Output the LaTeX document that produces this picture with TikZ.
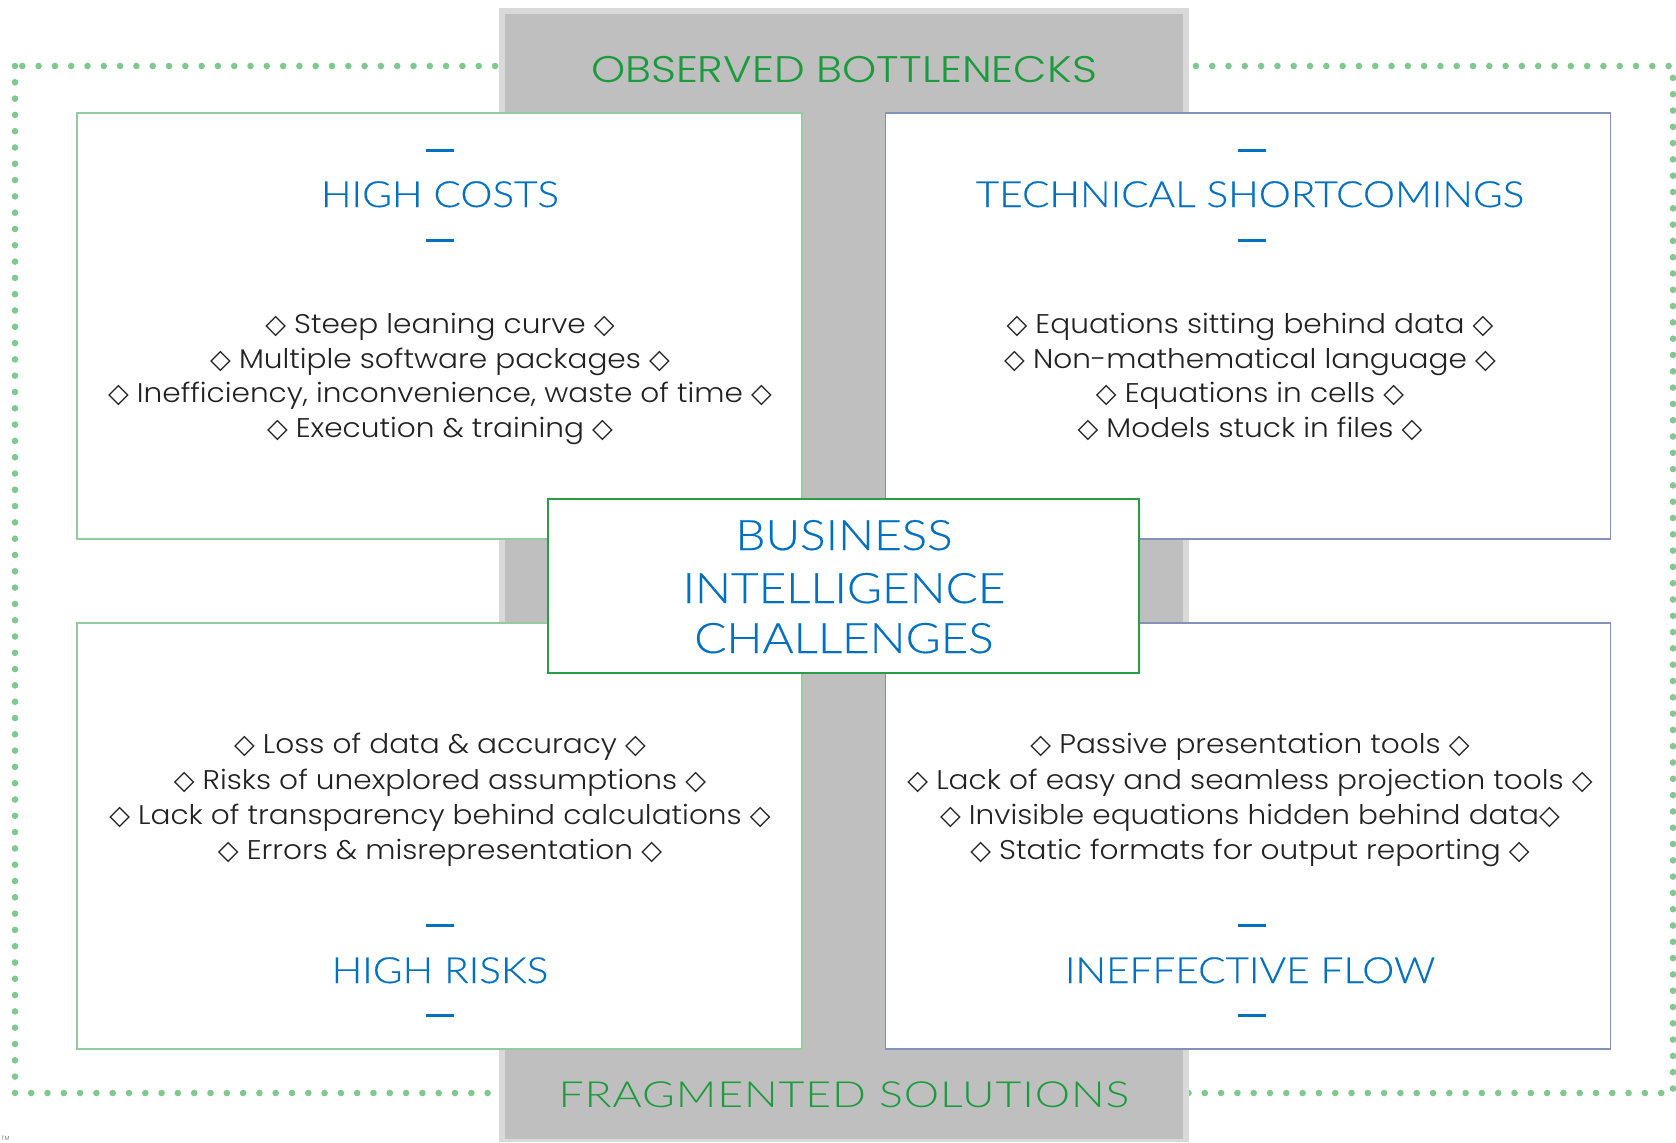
\documentclass[tikz,border=0pt]{standalone}
\usepackage{fontspec}
\setmainfont{Poppins}[UprightFont=* Light]
\newfontfamily\bulfont{Poppins}[UprightFont=* Light, FakeStretch=1.095]
\newfontfamily\obsfont{Poppins}[UprightFont=* Light, FakeStretch=1.175]
\newfontfamily\tfont{Lato}[UprightFont=* Light, FakeStretch=1.125, FakeBold=0.35]
\newfontfamily\cfont{Lato}[UprightFont=* Light, FakeStretch=1.135, FakeBold=0.35]
\newfontfamily\fragfont{Lato}[UprightFont=* Light, FakeStretch=1.24, LetterSpace=2.5]
\newfontfamily\dvfont{DejaVu Sans}
\newcommand{\dm}{{\dvfont ◇}}
\definecolor{bluetxt}{HTML}{0070C0}
\definecolor{greentxt}{HTML}{1A9B3C}
\definecolor{dotgreen}{HTML}{7FC98F}
\definecolor{graymid}{HTML}{BFBFBF}
\definecolor{graylight}{HTML}{D9D9D9}
\definecolor{boxgreen}{HTML}{93CC9E}
\definecolor{boxblue}{HTML}{8591B8}
\definecolor{centgreen}{HTML}{2A9D47}
\definecolor{bullettxt}{HTML}{222222}
\tikzset{
  quadbox/.style={draw, fill=white, line width=0.6pt, minimum width=362.5pt, minimum height=213pt, inner sep=0pt},
  quadtitle/.style={anchor=base, text=bluetxt, font=\tfont\fontsize{18}{20}\selectfont, inner sep=0pt},
  centertitle/.style={anchor=base, text=bluetxt, font=\cfont\fontsize{21}{24}\selectfont, inner sep=0pt},
  bullet/.style={anchor=base, text=bullettxt, font=\bulfont\fontsize{13.5}{16}\selectfont, inner sep=0pt},
  bluedash/.style={draw=bluetxt, line width=1.5pt},
  sidetitle/.style={anchor=base, text=greentxt, inner sep=0pt}
}
\begin{document}
\begin{tikzpicture}[x=0.5pt,y=-0.5pt]
\useasboundingbox (0,0) rectangle (1676,1142);
% dotted frame
\draw[dotgreen, line width=3.3pt, dash pattern=on 0pt off 8.15pt, line cap=round] (15,66) rectangle (1673,1093);
% gray column
\fill[graylight] (499,7.5) rectangle (1189,1142);
\fill[graymid] (505,14) rectangle (1183,1139);
% quadrant boxes
\node[quadbox, draw=boxgreen] (tl) at (439.5,326) {};
\node[quadbox, draw=boxblue] (tr) at (1248,326) {};
\node[quadbox, draw=boxgreen] (bl) at (439.5,836) {};
\node[quadbox, draw=boxblue] (br) at (1248,836) {};
% center box
\node[draw=centgreen, fill=white, line width=1.1pt, minimum width=295.5pt, minimum height=87pt, inner sep=0pt] (cb) at (843.5,586) {};
\node[centertitle] (c1) at (844,550) {BUSINESS};
\node[centertitle] (c2) at (844,603) {INTELLIGENCE};
\node[centertitle] (c3) at (844,653) {CHALLENGES};
% side titles
\node[sidetitle, font=\obsfont\fontsize{18.5}{20}\selectfont] (obs) at (844,82) {OBSERVED BOTTLENECKS};
\node[sidetitle, font=\fragfont\fontsize{18}{20}\selectfont] (frag) at (844,1107) {FRAGMENTED SOLUTIONS};
% top-left
\draw[bluedash] (426,150) -- (454,150);
\node[quadtitle] (t1) at (440,207) {HIGH COSTS};
\draw[bluedash] (426,240) -- (454,240);
\node[bullet] (t1a) at (440,333) {\dm{} Steep leaning curve \dm};
\node[bullet] (t1b) at (440,368) {\dm{} Multiple software packages \dm};
\node[bullet] (t1c) at (440,402) {\dm{} Inefficiency, inconvenience, waste of time \dm};
\node[bullet] (t1d) at (440,437) {\dm{} Execution \& training \dm};
% top-right
\draw[bluedash] (1238,150) -- (1266,150);
\node[quadtitle] (t2) at (1250,207) {TECHNICAL SHORTCOMINGS};
\draw[bluedash] (1238,240) -- (1266,240);
\node[bullet] (t2a) at (1250,333) {\dm{} Equations sitting behind data \dm};
\node[bullet] (t2b) at (1250,368) {\dm{} Non-mathematical language \dm};
\node[bullet] (t2c) at (1250,402) {\dm{} Equations in cells \dm};
\node[bullet] (t2d) at (1250,437) {\dm{} Models stuck in files \dm};
% bottom-left
\node[bullet] (t3a) at (440,753) {\dm{} Loss of data \& accuracy \dm};
\node[bullet] (t3b) at (440,789) {\dm{} Risks of unexplored assumptions \dm};
\node[bullet] (t3c) at (440,824) {\dm{} Lack of transparency behind calculations \dm};
\node[bullet] (t3d) at (440,859) {\dm{} Errors \& misrepresentation \dm};
\draw[bluedash] (426,925) -- (454,925);
\node[quadtitle] (t3) at (440,983) {HIGH RISKS};
\draw[bluedash] (426,1015) -- (454,1015);
% bottom-right
\node[bullet] (t4a) at (1250,753) {\dm{} Passive presentation tools \dm};
\node[bullet] (t4b) at (1250,789) {\dm{} Lack of easy and seamless projection tools \dm};
\node[bullet] (t4c) at (1250,824) {\dm{} Invisible equations hidden behind data\dm};
\node[bullet] (t4d) at (1250,859) {\dm{} Static formats for output reporting \dm};
\draw[bluedash] (1238,925) -- (1266,925);
\node[quadtitle] (t4) at (1250,983) {INEFFECTIVE FLOW};
\draw[bluedash] (1238,1015) -- (1266,1015);
% trademark
\node[anchor=base west, text=black!60, font=\fontsize{3}{3}\selectfont, inner sep=0pt] (tm) at (1,1140) {TM};
\end{tikzpicture}
\end{document}
